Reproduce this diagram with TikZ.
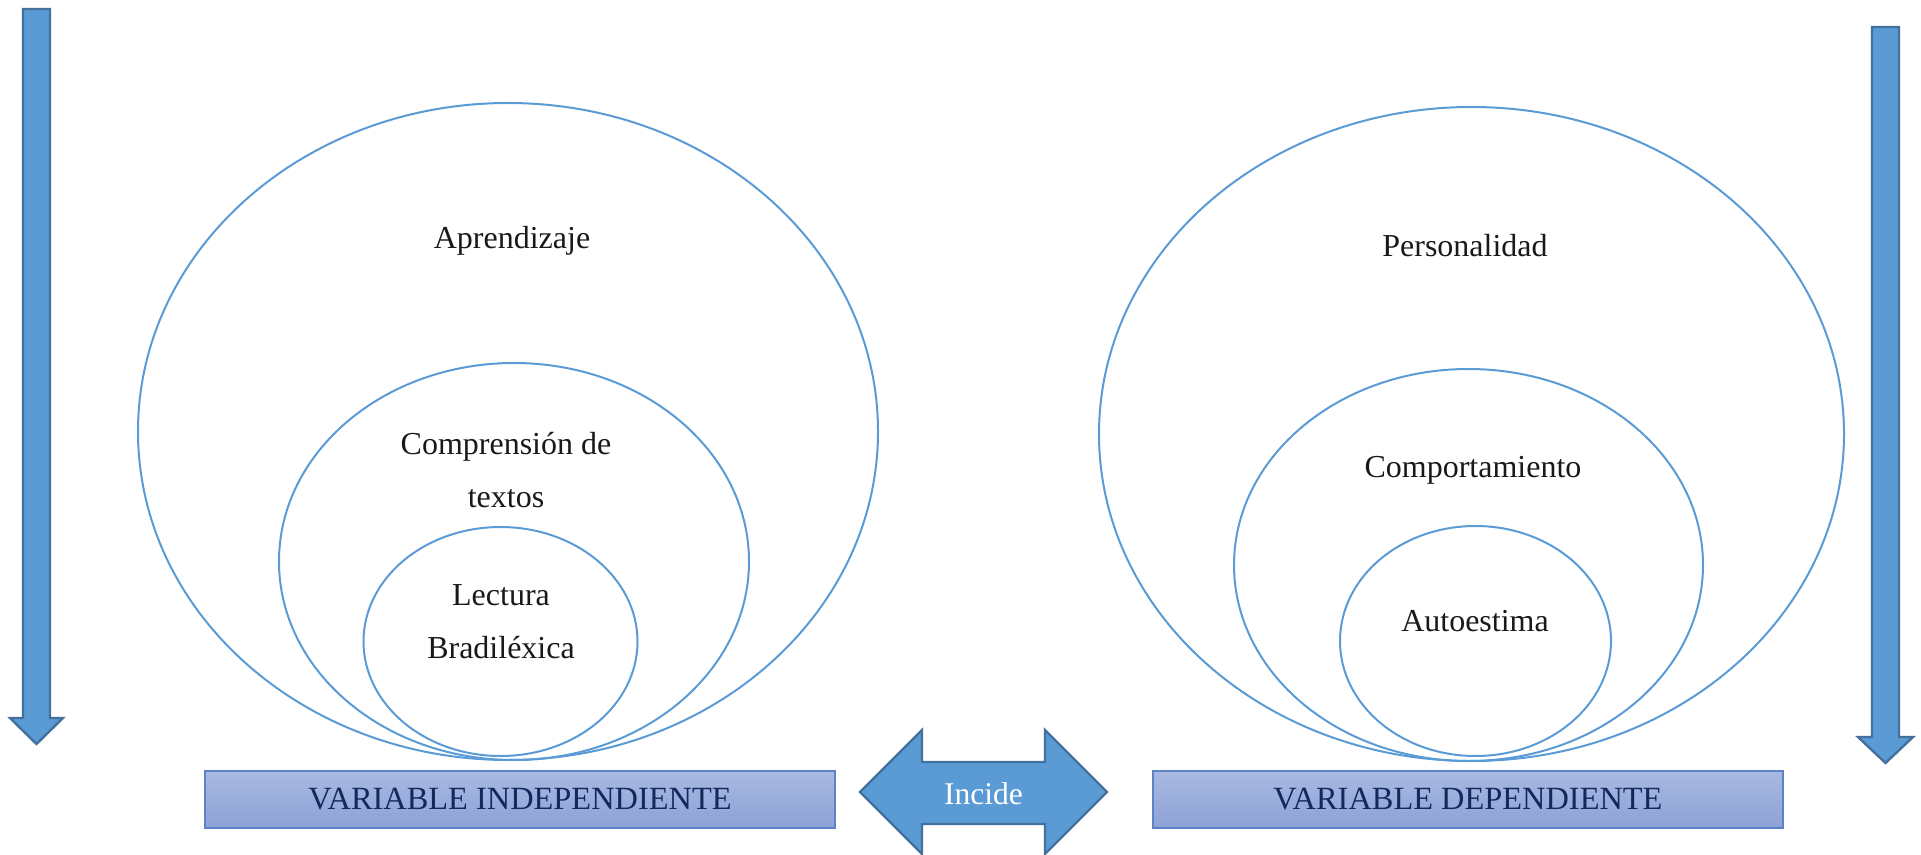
\documentclass[tikz,border=0pt]{standalone}
\usepackage{fontspec}
\setmainfont{Liberation Serif}
\usetikzlibrary{shapes.geometric}
\definecolor{ellblue}{HTML}{5B9BD5}
\definecolor{arrfill}{HTML}{5B9BD5}
\definecolor{arrline}{HTML}{41719C}
\definecolor{boxtop}{HTML}{A9B9E1}
\definecolor{boxbot}{HTML}{8CA1D6}
\definecolor{boxline}{HTML}{5E82C6}
\definecolor{navy}{HTML}{13295E}
\begin{document}
\begin{tikzpicture}[x=0.5pt,y=-0.5pt,
  ell/.style={draw=ellblue,line width=1pt,ellipse,inner sep=0pt},
  lbl/.style={font=\fontsize{16}{19}\selectfont,text=black!90,inner sep=0pt},
  bigarrow/.style={fill=arrfill,draw=arrline,line width=1.2pt,line join=miter},
  varbox/.style={draw=boxline,line width=0.6pt,top color=boxtop,bottom color=boxbot,minimum width=315pt,minimum height=28.5pt,inner sep=0pt,text=navy,font=\fontsize{16.2}{19}\selectfont}]
\useasboundingbox (0,0) rectangle (1921,855);
% left down arrow
\draw[bigarrow] (23,9) -- (50,9) -- (50,718) -- (63,718) -- (36.5,744) -- (10,718) -- (23,718) -- cycle;
% right down arrow
\draw[bigarrow] (1872,27) -- (1899,27) -- (1899,737) -- (1913,737) -- (1885.5,763) -- (1858,737) -- (1872,737) -- cycle;
% ellipses left
\node[ell,minimum width=370pt,minimum height=328.5pt] (aprend) at (508,431.5) {};
\node[ell,minimum width=235pt,minimum height=198.5pt] (compr) at (514,561.5) {};
\node[ell,minimum width=137pt,minimum height=114.5pt] (lect) at (500.5,641.5) {};
% ellipses right
\node[ell,minimum width=372.5pt,minimum height=327pt] (person) at (1471.5,434) {};
\node[ell,minimum width=234.5pt,minimum height=196pt] (comport) at (1468.5,565) {};
\node[ell,minimum width=135.5pt,minimum height=115pt] (autoest) at (1475.5,641) {};
% labels
\node[lbl] (taprend) at (512,241) {Aprendizaje};
\node[lbl] (tcompr1) at (506,447) {Comprensión de};
\node[lbl] (tcompr2) at (506,499) {textos};
\node[lbl] (tlect1) at (501,595) {Lectura};
\node[lbl] (tlect2) at (501,648) {Bradiléxica};
\node[lbl] (tperson) at (1465,246) {Personalidad};
\node[lbl] (tcomport) at (1473,470) {Comportamiento};
\node[lbl] (tautoest) at (1475,621) {Autoestima};
% variable boxes
\node[varbox] (vi) at (520,799.5) {VARIABLE INDEPENDIENTE};
\node[varbox] (vd) at (1468,799.5) {VARIABLE DEPENDIENTE};
% double arrow
\draw[bigarrow] (860,792) -- (922,730) -- (922,762) -- (1045,762) -- (1045,730) -- (1107,792) -- (1045,854) -- (1045,824) -- (922,824) -- (922,854) -- cycle;
\node[font=\fontsize{15.8}{19}\selectfont,text=white,inner sep=0pt] (incide) at (983.5,794) {Incide};
\end{tikzpicture}
\end{document}
